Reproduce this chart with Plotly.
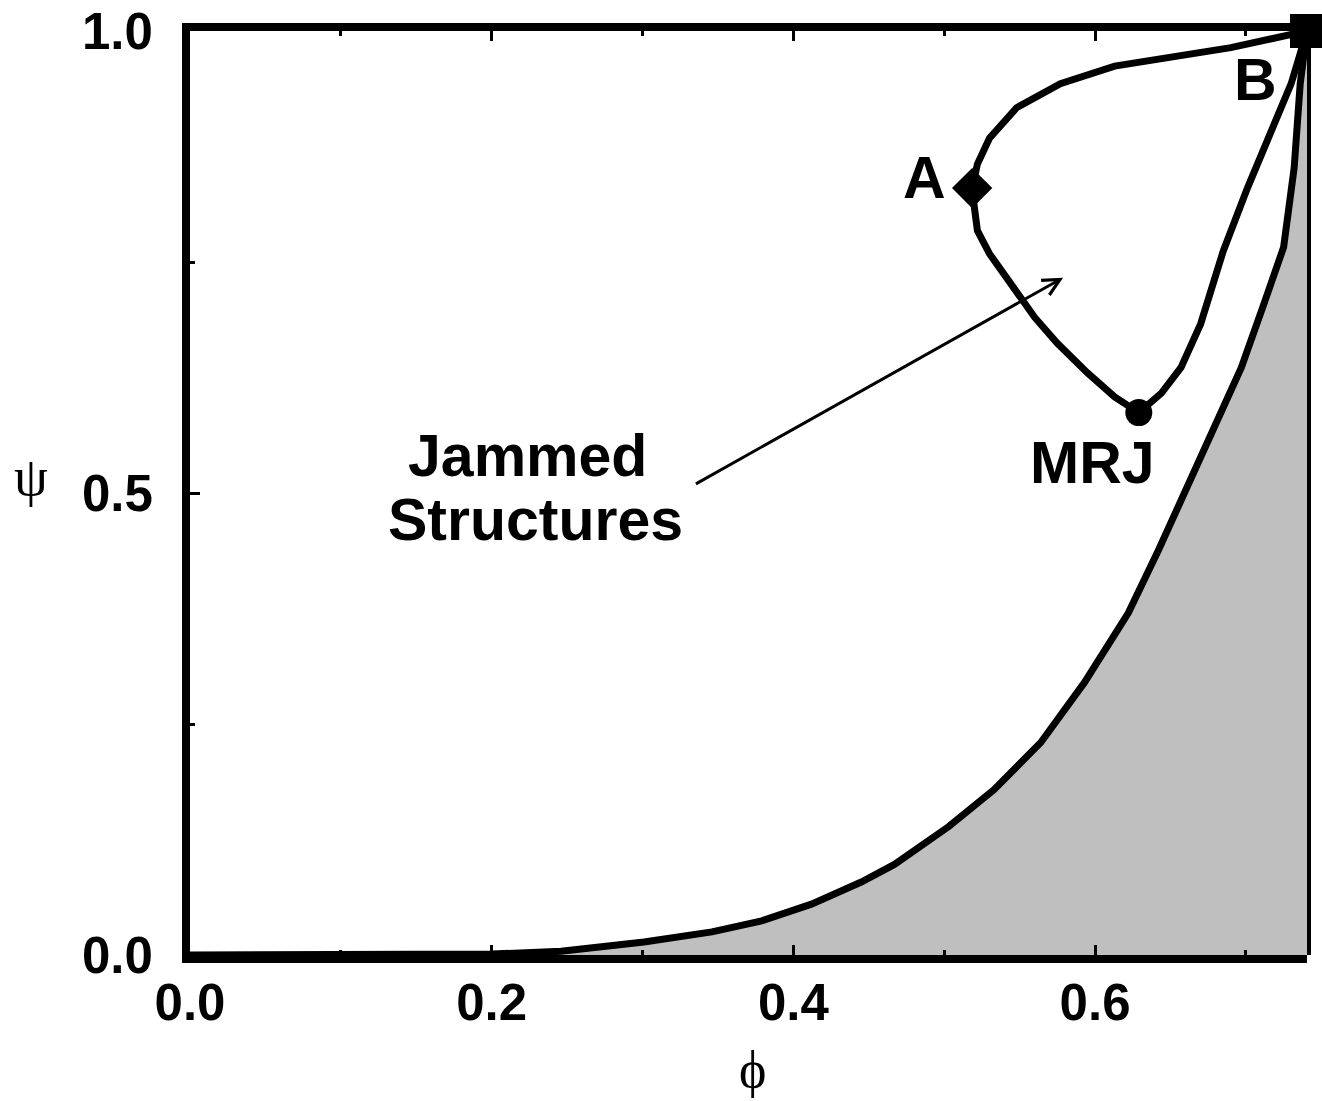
import plotly.graph_objects as go

# ---- data ----
phi_max = 0.7405

# lower boundary of the jammed region (grey area below it)
lower_phi = [0.0, 0.1, 0.2, 0.246, 0.301, 0.346, 0.379, 0.412, 0.445, 0.467,
             0.503, 0.533, 0.564, 0.593, 0.622, 0.642, 0.661, 0.679, 0.697,
             0.712, 0.725, 0.732, 0.736, 0.7405]
lower_psi = [0.0, 0.0, 0.001, 0.004, 0.014, 0.025, 0.037, 0.055, 0.079, 0.098,
             0.139, 0.179, 0.230, 0.295, 0.370, 0.438, 0.506, 0.571, 0.636,
             0.705, 0.766, 0.852, 0.943, 1.0]

# upper loop B -> A -> MRJ -> B
upper_phi = [0.7405, 0.690, 0.613, 0.577, 0.548, 0.530, 0.522, 0.5185, 0.520, 0.522,
             0.530, 0.546, 0.560, 0.575, 0.595, 0.613, 0.629, 0.644, 0.657, 0.670,
             0.685, 0.701, 0.717, 0.730, 0.7405]
upper_psi = [1.0, 0.982, 0.962, 0.943, 0.917, 0.884, 0.856, 0.830, 0.809, 0.784,
             0.759, 0.722, 0.690, 0.662, 0.630, 0.604, 0.587, 0.608, 0.636, 0.683,
             0.762, 0.830, 0.892, 0.943, 1.0]

# special points
point_names = ["A", "MRJ", "B"]
point_phi = [0.5185, 0.629, 0.7405]
point_psi = [0.830, 0.587, 1.0]
point_symbols = ["diamond", "circle", "square"]
point_sizes = [31, 27, 34]

# label positions
label_text = ["A", "MRJ", "B", "Jammed", "Structures"]
label_phi = [0.487, 0.598, 0.7066, 0.224, 0.229]
label_psi = [0.841, 0.532, 0.947, 0.540, 0.471]

# arrow (tail -> head)
arrow_tail = (0.3344, 0.509)
arrow_head = (0.5788, 0.733)

x_ticks = [0.0, 0.2, 0.4, 0.6]
y_ticks = [0.0, 0.5, 1.0]

BOLD = "Liberation Sans, Arial, Helvetica, sans-serif"
SERIF = "Liberation Serif, DejaVu Serif, serif"

fig = go.Figure()

# grey region
fig.add_trace(go.Scatter(
    x=lower_phi + [phi_max], y=lower_psi + [0.0],
    mode="lines", fill="toself", fillcolor="#bfbfbf",
    line=dict(width=0, color="rgba(0,0,0,0)"), hoverinfo="skip"))

# lower boundary
fig.add_trace(go.Scatter(x=lower_phi, y=lower_psi, mode="lines",
                         line=dict(color="black", width=7), cliponaxis=False))
# upper loop
fig.add_trace(go.Scatter(x=upper_phi, y=upper_psi, mode="lines",
                         line=dict(color="black", width=7, shape="linear"),
                         cliponaxis=False))
# markers
fig.add_trace(go.Scatter(x=point_phi, y=point_psi, mode="markers",
                         marker=dict(symbol=point_symbols, size=point_sizes,
                                     color="black", opacity=1, line=dict(width=0)),
                         opacity=1, cliponaxis=False))

# labels
for t, xx, yy in zip(label_text, label_phi, label_psi):
    fig.add_annotation(x=xx, y=yy, text=t, showarrow=False,
                       xanchor="center", yanchor="middle",
                       font=dict(family=BOLD, size=59, color="black", weight="bold"))

# arrow
fig.add_annotation(x=arrow_head[0], y=arrow_head[1], ax=arrow_tail[0], ay=arrow_tail[1],
                   axref="x", ayref="y", xref="x", yref="y", text="",
                   showarrow=True, arrowhead=5, arrowsize=1.1, arrowwidth=3,
                   arrowcolor="black", standoff=0, startstandoff=0)

# axis symbols
fig.add_annotation(x=-0.1423, y=0.517, xref="paper", yref="paper", text="\u03c8",
                   showarrow=False, xanchor="center", yanchor="middle",
                   font=dict(family=SERIF, size=54, color="black"))
fig.add_annotation(x=0.504, y=-0.124, xref="paper", yref="paper", text="\u03d5",
                   showarrow=False, xanchor="center", yanchor="middle",
                   font=dict(family=SERIF, size=52, color="black"))

# right frame edge (thinner)
fig.add_shape(type="line", xref="paper", yref="paper", x0=1.0018, x1=1.0018, y0=0, y1=1,
              line=dict(color="black", width=4), layer="below")

fig.update_xaxes(range=[0, phi_max], showgrid=False, zeroline=False, automargin=False,
                 showline=True, linewidth=8, linecolor="black", mirror="ticks",
                 ticks="inside", ticklen=10, tickwidth=3, tickcolor="black",
                 tickvals=x_ticks, ticktext=[f"{v:.1f}" for v in x_ticks],
                 minor=dict(tickvals=[0.1, 0.3, 0.5, 0.7], ticks="inside", ticklen=5,
                            tickwidth=3, tickcolor="black"),
                 tickfont=dict(family=BOLD, size=51, color="black", weight="bold"),
                 ticklabelstandoff=-4, ticklabeloverflow="allow")
fig.update_yaxes(range=[0, 1], showgrid=False, zeroline=False, automargin=False,
                 showline=True, linewidth=8, linecolor="black", mirror=False,
                 ticks="inside", ticklen=10, tickwidth=3, tickcolor="black",
                 tickvals=y_ticks, ticktext=[f"{v:.1f}" for v in y_ticks],
                 minor=dict(tickvals=[0.25, 0.75], ticks="inside", ticklen=5,
                            tickwidth=3, tickcolor="black"),
                 tickfont=dict(family=BOLD, size=51, color="black", weight="bold"),
                 ticklabelstandoff=19, ticklabeloverflow="allow")

fig.update_layout(width=1322, height=1101, showlegend=False,
                  margin=dict(l=190, r=15, t=31, b=146, autoexpand=False),
                  plot_bgcolor="white", paper_bgcolor="white")

# remove the browser's default 8px body margin so the figure fills the window
fig.write_html("out.html",
               config={"displayModeBar": False, "staticPlot": True},
               post_script="document.body.style.margin='0px';"
                           "document.body.style.overflow='hidden';")
